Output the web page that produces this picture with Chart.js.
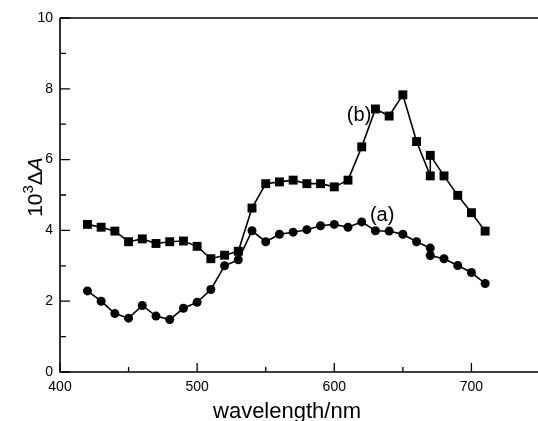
<!DOCTYPE html>
<html>
<head>
<meta charset="utf-8">
<script src="https://cdn.jsdelivr.net/npm/chart.js@4"></script>
<style>
html,body{margin:0;padding:0;background:#fff;overflow:hidden;width:538px;height:421px;}
#wrap{position:absolute;left:0;top:0;width:548px;height:421px;}
</style>
</head>
<body>
<div id="wrap"><canvas id="c" width="548" height="421"></canvas></div>
<script>
const wavelengthA = [420,430,440,450,460,470,480,490,500,510,520,530,540,550,560,570,580,590,600,610,620,630,640,650,660,670,670,680,690,700,710];
const valuesA = [2.29,2.00,1.65,1.52,1.88,1.58,1.48,1.80,1.97,2.33,3.00,3.17,3.99,3.68,3.89,3.95,4.02,4.13,4.17,4.09,4.24,3.99,3.98,3.89,3.68,3.50,3.29,3.20,3.01,2.81,2.50];
const wavelengthB = [420,430,440,450,460,470,480,490,500,510,520,530,540,550,560,570,580,590,600,610,620,630,640,650,660,670,670,680,690,700,710];
const valuesB = [4.17,4.09,3.98,3.68,3.76,3.63,3.68,3.70,3.55,3.20,3.30,3.41,4.63,5.32,5.37,5.42,5.32,5.32,5.23,5.42,6.36,7.43,7.23,7.83,6.51,5.54,6.12,5.54,4.99,4.50,3.98];
const xTicks = [400,450,500,550,600,650,700,750];
const yTicks = [0,1,2,3,4,5,6,7,8,9,10];
const xTitle = 'wavelength/nm';
const seriesLabels = ['(a)','(b)'];

const FONT = '"Liberation Sans", Arial, Helvetica, sans-serif';

const framePlugin = {
  id: 'frame',
  afterDraw(chart) {
    const ctx = chart.ctx, a = chart.chartArea;
    const xs = chart.scales.x, ys = chart.scales.y;
    ctx.save();
    ctx.strokeStyle = '#000';
    ctx.lineWidth = 1.6;
    ctx.beginPath();
    ctx.moveTo(a.left, a.top); ctx.lineTo(a.right, a.top);
    ctx.moveTo(a.left, a.top); ctx.lineTo(a.left, a.bottom);
    ctx.lineTo(a.right, a.bottom);
    ctx.lineTo(a.right, a.top);
    ctx.stroke();
    ctx.lineWidth = 1.3;
    ctx.beginPath();
    xTicks.forEach(v => {
      const px = xs.getPixelForValue(v);
      const len = (v % 100 === 0) ? 9 : 5;
      ctx.moveTo(px, a.bottom); ctx.lineTo(px, a.bottom - len);
    });
    yTicks.forEach(v => {
      const py = ys.getPixelForValue(v);
      const len = (v % 2 === 0) ? 10 : 6;
      ctx.moveTo(a.left, py); ctx.lineTo(a.left + len, py);
    });
    ctx.stroke();

    // axis titles
    ctx.fillStyle = '#000';
    ctx.font = '22px ' + FONT;
    ctx.textAlign = 'center';
    ctx.textBaseline = 'alphabetic';
    ctx.fillText(xTitle, 287, 418);

    // y title: 10^3 ΔA rotated
    ctx.save();
    ctx.translate(42, 187);
    ctx.rotate(-Math.PI/2);
    const big = '21px ' + FONT, small = '15px ' + FONT, ital = 'italic 21px ' + FONT;
    ctx.font = big; const w1 = ctx.measureText('10').width;
    ctx.font = small; const w2 = ctx.measureText('3').width;
    ctx.font = big; const w3 = ctx.measureText('\u0394').width;
    ctx.font = ital; const w4 = ctx.measureText('A').width;
    let x0 = -(w1 + w2 + w3 + w4) / 2;
    ctx.textAlign = 'left';
    ctx.font = big; ctx.fillText('10', x0, 0); x0 += w1;
    ctx.font = small; ctx.fillText('3', x0, -9); x0 += w2;
    ctx.font = big; ctx.fillText('\u0394', x0, 0); x0 += w3;
    ctx.font = ital; ctx.fillText('A', x0, 0);
    ctx.restore();

    // series labels
    ctx.font = '20px ' + FONT;
    ctx.textBaseline = 'middle';
    ctx.textAlign = 'left';
    ctx.fillText(seriesLabels[0], xs.getPixelForValue(626), ys.getPixelForValue(4.43));
    ctx.textAlign = 'right';
    ctx.fillText(seriesLabels[1], xs.getPixelForValue(627), ys.getPixelForValue(7.26));
    ctx.restore();
  }
};

new Chart(document.getElementById('c'), {
  type: 'line',
  data: {
    datasets: [
      {
        label: seriesLabels[0],
        data: wavelengthA.map((x, i) => ({x: x, y: valuesA[i]})),
        borderColor: '#000', backgroundColor: '#000', borderWidth: 1.6,
        pointStyle: 'circle', pointRadius: 4.5, pointBorderWidth: 0,
        tension: 0, fill: false
      },
      {
        label: seriesLabels[1],
        data: wavelengthB.map((x, i) => ({x: x, y: valuesB[i]})),
        borderColor: '#000', backgroundColor: '#000', borderWidth: 1.6,
        pointStyle: 'rect', pointRadius: 6.3, pointBorderWidth: 0,
        tension: 0, fill: false
      }
    ]
  },
  options: {
    responsive: false,
    animation: false,
    layout: { padding: { top: 18, right: 8, left: 0, bottom: 0 } },
    plugins: { legend: { display: false }, tooltip: { enabled: false } },
    scales: {
      x: {
        type: 'linear', min: 400, max: 750,
        afterBuildTicks: s => { s.ticks = xTicks.map(v => ({value: v})); },
        afterFit: s => { s.height = 49; },
        grid: { display: false, drawTicks: false },
        border: { display: false },
        ticks: {
          autoSkip: false, maxRotation: 0, padding: 7, color: '#000',
          font: { family: FONT, size: 14 },
          callback: v => (v % 100 === 0 && v < 750) ? String(v) : ''
        }
      },
      y: {
        type: 'linear', min: 0, max: 10,
        afterBuildTicks: s => { s.ticks = yTicks.map(v => ({value: v})); },
        afterFit: s => { s.width = 60; },
        grid: { display: false, drawTicks: false },
        border: { display: false },
        ticks: {
          autoSkip: false, padding: 7, color: '#000',
          font: { family: FONT, size: 14 },
          callback: v => (v % 2 === 0) ? String(v) : ''
        }
      }
    }
  },
  plugins: [framePlugin]
});
</script>
</body>
</html>
